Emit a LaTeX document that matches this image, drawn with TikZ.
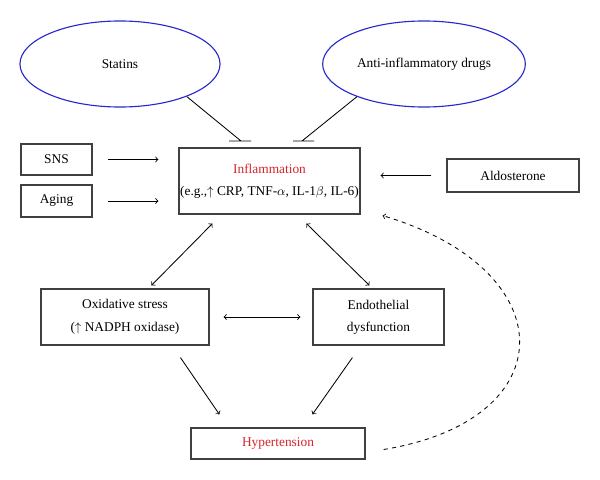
\documentclass[tikz,border=0pt]{standalone}
\usepackage{fontspec}
\setmainfont{Liberation Serif}
\usetikzlibrary{shapes.geometric,calc}
\definecolor{ovblue}{RGB}{40,40,205}
\definecolor{txred}{RGB}{215,35,45}

\begin{document}
\begin{tikzpicture}[x=0.025cm,y=-0.025cm,font=\fontsize{9.5}{11}\selectfont,
  drug/.style={ellipse,draw=ovblue,line width=.8pt,minimum width=5cm,minimum height=2.15cm},
  box/.style={draw=black!75,line width=.8pt,align=center,inner sep=0pt},
  arr/.style={->,line width=.6pt},
  dbl/.style={<->,line width=.6pt},
  hit/.style={line width=.6pt}]
\useasboundingbox (0,0) rectangle (600,480);
% drugs on top
\node[drug] (stat) at (120,64) {Statins}; \node[drug] (anti) at (424,64) {Anti-inflammatory drugs};
% boxes
\node[box,minimum width=4.525cm,minimum height=1.65cm] (infl) at (269.5,181) {\textcolor{txred}{Inflammation}\\[4.5pt](e.g.,$\uparrow$ CRP, TNF-$\alpha$, IL-1$\beta$, IL-6)};
\node[box,minimum width=1.775cm,minimum height=.775cm] (sns) at (56.5,159.5) {SNS};
\node[box,minimum width=1.775cm,minimum height=.8cm] (aging) at (56.5,201) {Aging};
\node[box,minimum width=3.3cm,minimum height=.825cm] (aldo) at (513,175.5) {Aldosterone};
\node[box,minimum width=4.2cm,minimum height=1.4cm] (oxi) at (125,317) {Oxidative stress\\[5.5pt]($\uparrow$ NADPH oxidase)};
\node[box,minimum width=3.275cm,minimum height=1.4cm] (endo) at (378.5,317) {Endothelial\\[4.5pt]dysfunction};
\node[box,minimum width=4.35cm,minimum height=.775cm] (hyp) at (278,443.5) {\textcolor{txred}{Hypertension}};
% inhibition
\coordinate (i1) at (241,141); \coordinate (i2) at (302,141);
\draw[hit] (stat.-26) -- (i1) +(-12,0) -- +(10,0); \draw[hit] (anti.206) -- (i2) +(-9,0) -- +(12,0);
% arrows in
\draw[arr,shorten <=.375cm,shorten >=.5cm] (sns.east) -- (sns.east -| infl.west);
\draw[arr,shorten <=.375cm,shorten >=.5cm] (aging.east) -- (aging.east -| infl.west);
\draw[arr,shorten <=.375cm,shorten >=.5cm] (aldo.west) -- (aldo.west -| infl.east);
% middle
\draw[dbl] ($(infl.south west)+(34,9)$) -- ($(oxi.north west)+(111,-3)$);
\draw[dbl] ($(infl.south west)+(128,9)$) -- ($(endo.north west)+(57,-3)$);
\draw[dbl,shorten <=.35cm,shorten >=.3cm] (oxi.east) -- (endo.west);
\draw[arr] ($(oxi.south west)+(140,12)$) -- ($(hyp.north west)+(29,-13)$);
\draw[arr] ($(endo.south west)+(40,12)$) -- ($(hyp.north west)+(122,-13)$);
% feedback
\draw[arr,dashed] ($(hyp.east)+(18,6)$) .. controls (565,420) and (565,270) .. ($(infl.south east)+(22,1)$);
\end{tikzpicture}
\end{document}
